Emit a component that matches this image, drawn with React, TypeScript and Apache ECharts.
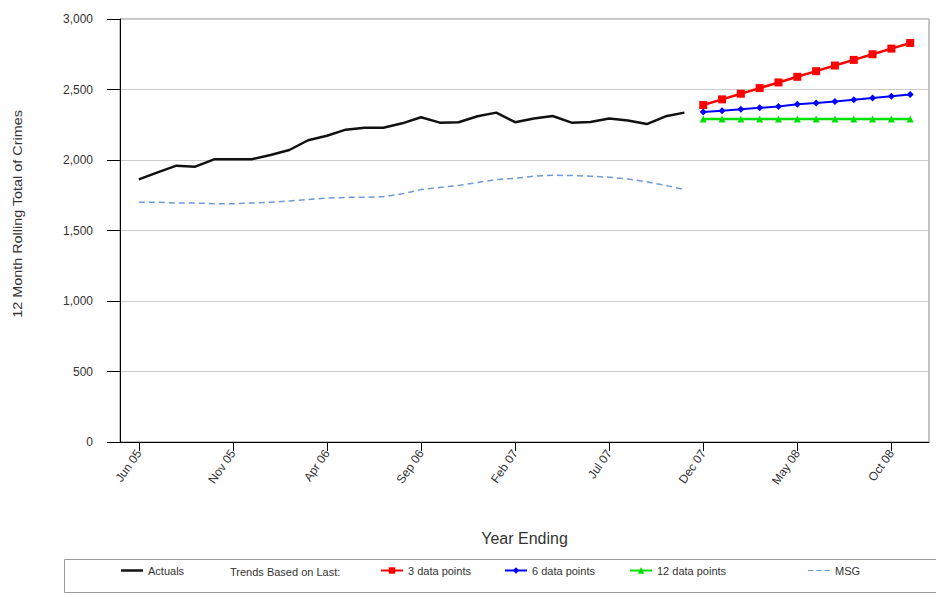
import React, { useEffect, useRef } from "react";
import * as echarts from "echarts";

const categories = [
  "May 05", "Jun 05", "Jul 05", "Aug 05", "Sep 05", "Oct 05", "Nov 05", "Dec 05",
  "Jan 06", "Feb 06", "Mar 06", "Apr 06", "May 06", "Jun 06", "Jul 06", "Aug 06", "Sep 06", "Oct 06", "Nov 06", "Dec 06",
  "Jan 07", "Feb 07", "Mar 07", "Apr 07", "May 07", "Jun 07", "Jul 07", "Aug 07", "Sep 07", "Oct 07", "Nov 07", "Dec 07",
  "Jan 08", "Feb 08", "Mar 08", "Apr 08", "May 08", "Jun 08", "Jul 08", "Aug 08", "Sep 08", "Oct 08", "Nov 08", "Dec 08",
];

// Jun 05 .. Nov 07
const actuals = [
  1863, 1912, 1960, 1953, 2005, 2005, 2005, 2035, 2071, 2140,
  2172, 2215, 2229, 2229, 2260, 2303, 2265, 2268, 2310, 2336,
  2268, 2294, 2312, 2265, 2270, 2295, 2280, 2255, 2310, 2336,
];
const msg = [
  1700, 1700, 1695, 1695, 1690, 1690, 1695, 1700, 1710, 1720,
  1730, 1735, 1735, 1740, 1760, 1790, 1805, 1820, 1840, 1862,
  1870, 1885, 1892, 1890, 1885, 1878, 1865, 1845, 1820, 1790,
];
// Dec 07 .. Nov 08
const trend3 = [2390, 2430, 2470, 2510, 2550, 2590, 2630, 2670, 2710, 2750, 2790, 2830];
const trend6 = [2340, 2350, 2360, 2370, 2380, 2395, 2405, 2415, 2428, 2440, 2452, 2465];
const trend12 = [2290, 2290, 2290, 2290, 2290, 2290, 2290, 2290, 2290, 2290, 2290, 2290];

const actualsStart = "Jun 05";
const trendStart = "Dec 07";

function place(values: number[], start: string): (number | null)[] {
  const s = categories.indexOf(start);
  return categories.map((_, i) => (i >= s && i - s < values.length ? values[i - s] : null));
}

const FONT = "Liberation Sans, Arial, sans-serif";
const MSG_COLOR = "#6f9ad8";

export default function App() {
  const ref = useRef<HTMLDivElement>(null);
  useEffect(() => {
    if (!ref.current) return;
    const chart = echarts.init(ref.current, null, { renderer: "svg" });
    const legendText = { fontSize: 11, color: "#333", fontFamily: FONT };
    const mkLegend = (item: any, left: number, itemHeight = 8) => ({
      show: true,
      data: [item],
      left,
      top: 565,
      itemWidth: 22,
      itemHeight,
      itemGap: 4,
      padding: 0,
      textStyle: legendText,
    });
    chart.setOption({
      animation: false,
      backgroundColor: "#fff",
      textStyle: { fontFamily: FONT },
      grid: {
        left: 120,
        right: 7,
        top: 19,
        bottom: 156,
        show: true,
        borderColor: "#888",
        borderWidth: 1,
        backgroundColor: "#fff",
      },
      legend: [
        mkLegend({ name: "Actuals", icon: "rect" }, 121, 2.5),
        mkLegend("3 data points", 380),
        mkLegend("6 data points", 504),
        mkLegend("12 data points", 629),
        mkLegend({ name: "MSG", icon: "path://M0,0h5v1h-5z M8,0h5v1h-5z M16,0h5v1h-5z" }, 808, 1.5),
      ],
      graphic: [
        {
          type: "rect",
          shape: { x: 64.5, y: 559.5, width: 880, height: 33 },
          style: { fill: "none", stroke: "#999", lineWidth: 1 },
        },
        {
          type: "text",
          x: 230,
          y: 571.5,
          style: { text: "Trends Based on Last:", fontSize: 11, fill: "#333", fontFamily: FONT, textVerticalAlign: "middle" },
        },
        {
          type: "text",
          x: 18,
          y: 214,
          rotation: Math.PI / 2,
          scaleX: 1.2,
          style: {
            text: "12 Month Rolling Total of Crimes",
            fontSize: 12,
            fill: "#333",
            fontFamily: FONT,
            textAlign: "center",
            textVerticalAlign: "middle",
          },
        },
      ],
      xAxis: {
        type: "category",
        data: categories,
        boundaryGap: false,
        name: "Year Ending",
        nameLocation: "middle",
        nameGap: 88,
        nameTextStyle: { fontSize: 16, color: "#333", fontFamily: FONT },
        axisLine: { show: true, lineStyle: { color: "#000", width: 1 } },
        axisTick: {
          show: true,
          interval: (i: number) => i % 5 === 1,
          length: 9,
          lineStyle: { color: "#000" },
        },
        axisLabel: {
          interval: (i: number) => i % 5 === 1,
          rotate: 55,
          fontSize: 12,
          color: "#333",
          margin: 9,
          fontFamily: FONT,
        },
        splitLine: { show: false },
      },
      yAxis: {
        type: "value",
        min: 0,
        max: 3000,
        interval: 500,
        axisLine: { show: true, lineStyle: { color: "#000", width: 1 } },
        axisTick: { show: true, length: 13, lineStyle: { color: "#000" } },
        axisLabel: {
          fontSize: 12,
          color: "#333",
          margin: 27,
          fontFamily: FONT,
          formatter: (v: number) => v.toLocaleString("en-US"),
        },
        splitLine: { show: true, lineStyle: { color: "#ccc", width: 1 } },
      },
      series: [
        {
          name: "Actuals",
          type: "line",
          data: place(actuals, actualsStart),
          showSymbol: false,
          symbol: "none",
          lineStyle: { color: "#111", width: 2.5 },
          itemStyle: { color: "#111" },
          z: 5,
        },
        {
          name: "3 data points",
          type: "line",
          data: place(trend3, trendStart),
          symbol: "rect",
          symbolSize: 8,
          lineStyle: { color: "#ff0000", width: 2.5 },
          itemStyle: { color: "#ff0000" },
        },
        {
          name: "6 data points",
          type: "line",
          data: place(trend6, trendStart),
          symbol: "diamond",
          symbolSize: 7,
          lineStyle: { color: "#0000ff", width: 2 },
          itemStyle: { color: "#0000ff" },
        },
        {
          name: "12 data points",
          type: "line",
          data: place(trend12, trendStart),
          symbol: "triangle",
          symbolSize: 7,
          lineStyle: { color: "#00e000", width: 2.5 },
          itemStyle: { color: "#00e000" },
        },
        {
          name: "MSG",
          type: "line",
          data: place(msg, actualsStart),
          showSymbol: false,
          symbol: "none",
          lineStyle: { color: MSG_COLOR, width: 1.5, type: [6, 4] },
          itemStyle: { color: MSG_COLOR },
        },
      ],
    });
    return () => chart.dispose();
  }, []);
  return <div ref={ref} style={{ position: "fixed", left: 0, top: 0, width: 936, height: 598 }} />;
}
